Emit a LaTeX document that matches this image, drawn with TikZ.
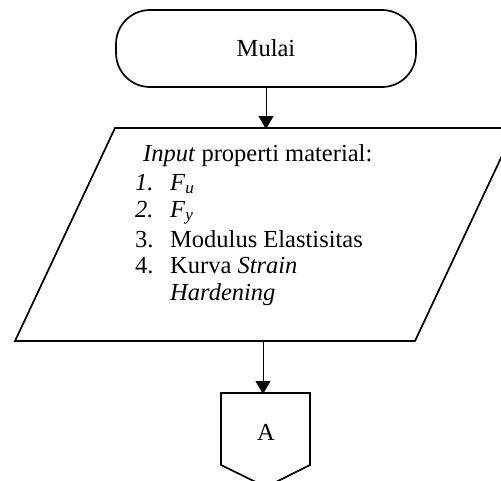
\documentclass[tikz,border=0pt]{standalone}
\usepackage{fontspec}
\setmainfont{Liberation Serif}
\usetikzlibrary{arrows.meta}
\tikzset{
  box/.style={draw=black, line width=1.7pt},
  flow/.style={draw=black, line width=0.9pt, -{Triangle[length=13pt,width=15pt]}},
  txt/.style={anchor=base west, inner sep=0pt, font=\fontsize{24.5}{29}\selectfont},
}
\begin{document}
\begin{tikzpicture}[x=1pt,y=-1pt]
\useasboundingbox (0,0) rectangle (501,480);
% terminator
\node[box, rounded corners=34pt, minimum width=300pt, minimum height=77pt,
      inner sep=0pt, font=\fontsize{24.5}{29}\selectfont] (start) at (266,48.5) {Mulai};
% input parallelogram
\draw[box, line join=miter] (15,341) -- (115,128) -- (515,128) -- (415,341) -- cycle;
\coordinate (intop) at (266,128);
\coordinate (inbot) at (263,341);
\node[txt] (l0) at (143,161) {\textit{Input} properti material:};
\node[txt] (l1n) at (135,190) {\textit{1.}};
\node[txt] (l1) at (170,190) {\textit{F}\textsubscript{\textit{u}}};
\node[txt] (l2n) at (135,217) {\textit{2.}};
\node[txt] (l2) at (170,217) {\textit{F}\textsubscript{\textit{y}}};
\node[txt] (l3n) at (135,247) {3.};
\node[txt] (l3) at (170,247) {Modulus Elastisitas};
\node[txt] (l4n) at (135,273) {4.};
\node[txt] (l4) at (170,273) {Kurva \textit{Strain}};
\node[txt] (l5) at (170,300) {\textit{Hardening}};
% off-page connector
\draw[box, line join=miter] (221,393) -- (310,393) -- (310,465) -- (266,487) -- (221,465) -- cycle;
\coordinate (contop) at (263,393);
\node[inner sep=0pt, font=\fontsize{24.5}{29}\selectfont] (A) at (266,432) {A};
% arrows
\draw[flow] (start.south) -- ([yshift=-1pt]intop);
\draw[flow] (inbot) -- ([yshift=-1pt]contop);
\end{tikzpicture}
\end{document}
